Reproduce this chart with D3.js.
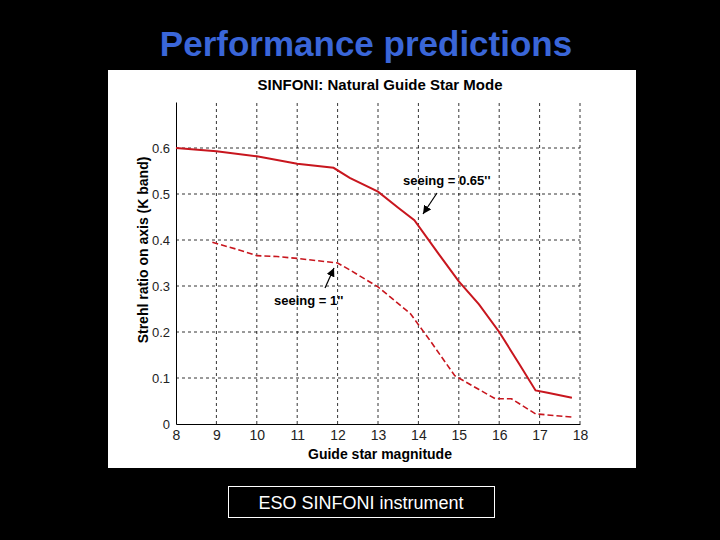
<!DOCTYPE html><html><head><script src="https://cdn.jsdelivr.net/npm/d3@7"></script>
<style>body{margin:0;background:#000}</style></head><body><svg id="c" width="720" height="540"></svg>
<script>
const xTicks=[8,9,10,11,12,13,14,15,16,17,18];
const yTicks=[0,0.1,0.2,0.3,0.4,0.5,0.6];
const goodMag=[8,9,10,11,11.9,12.3,13,13.5,13.9,14.5,15,15.5,16,16.5,16.9,17.2,17.8];
const goodStrehl=[0.60,0.593,0.582,0.566,0.557,0.535,0.505,0.47,0.443,0.37,0.31,0.26,0.2,0.13,0.073,0.068,0.057];
const badMag=[8.9,9.5,10,10.5,11,12,12.3,13,13.8,14.3,14.9,15.5,15.9,16.3,16.9,17.8];
const badStrehl=[0.395,0.38,0.366,0.364,0.36,0.35,0.335,0.298,0.24,0.18,0.105,0.075,0.055,0.055,0.022,0.015];
const svg=d3.select("#c");
svg.append("rect").attr("width",720).attr("height",540).attr("fill","#000");
svg.append("text").attr("x",366).attr("y",56).attr("text-anchor","middle").attr("font-family","Liberation Sans, Arial").attr("font-weight","bold").attr("font-size",35).attr("fill","#3a66d8").text("Performance predictions");
svg.append("rect").attr("x",108).attr("y",70).attr("width",528).attr("height",398).attr("fill","#fff");
svg.append("rect").attr("x",228.5).attr("y",486.5).attr("width",266).attr("height",31).attr("fill","none").attr("stroke","#fff");
svg.append("text").attr("x",361).attr("y",509).attr("text-anchor","middle").attr("font-family","Liberation Sans, Arial").attr("font-size",18).attr("fill","#fff").text("ESO SINFONI instrument");
const x=d3.scaleLinear().domain([8,18]).range([176,580]);
const y=d3.scaleLinear().domain([0,0.7]).range([424,102]);
const g=svg.append("g");
const F="Liberation Sans, Arial";
g.append("text").attr("x",380).attr("y",90).attr("text-anchor","middle").attr("font-family",F).attr("font-weight","bold").attr("font-size",15).text("SINFONI: Natural Guide Star Mode");
xTicks.slice(1).forEach(t=>g.append("line").attr("x1",x(t)).attr("x2",x(t)).attr("y1",y(0)).attr("y2",y(0.7)).attr("stroke","#000").attr("stroke-dasharray","3,3").attr("stroke-width",0.8));
yTicks.slice(1).forEach(t=>g.append("line").attr("x1",x(8)).attr("x2",x(18)).attr("y1",y(t)).attr("y2",y(t)).attr("stroke","#000").attr("stroke-dasharray","3,3").attr("stroke-width",0.8));
const xa=g.append("g").attr("transform",`translate(0,${y(0)})`).call(d3.axisBottom(x).tickValues(xTicks).tickSize(0).tickPadding(6).tickFormat(d3.format("d")));
xa.select(".domain").attr("stroke","#000");
xa.selectAll("text").attr("font-family",F).attr("font-size",14).attr("fill","#222");
const ya=g.append("g").attr("transform",`translate(${x(8)},0)`).call(d3.axisLeft(y).tickValues(yTicks).tickSize(0).tickPadding(6).tickFormat(d=>d===0?"0":d3.format(".1f")(d)));
ya.select(".domain").attr("stroke","#000");
ya.selectAll("text").attr("font-family",F).attr("font-size",13).attr("fill","#222");
g.append("text").attr("x",380).attr("y",459).attr("text-anchor","middle").attr("font-family",F).attr("font-weight","bold").attr("font-size",14).text("Guide star magnitude");
g.append("text").attr("transform","translate(148,250) rotate(-90)").attr("text-anchor","middle").attr("font-family",F).attr("font-weight","bold").attr("font-size",14).text("Strehl ratio on axis (K band)");
const line=d3.line().x(d=>x(d[0])).y(d=>y(d[1]));
g.append("path").attr("d",line(d3.zip(goodMag,goodStrehl))).attr("fill","none").attr("stroke","#c8161e").attr("stroke-width",2);
g.append("path").attr("d",line(d3.zip(badMag,badStrehl))).attr("fill","none").attr("stroke","#c8161e").attr("stroke-width",1.6).attr("stroke-dasharray","6,3");
svg.append("defs").append("marker").attr("id","ar").attr("viewBox","0 0 10 10").attr("refX",10).attr("refY",5).attr("markerWidth",7).attr("markerHeight",7).attr("orient","auto").append("path").attr("d","M0,0L10,5L0,10z");
g.append("text").attr("x",403).attr("y",185).attr("font-family",F).attr("font-weight","bold").attr("font-size",13).text("seeing = 0.65''");
g.append("line").attr("x1",437).attr("y1",193).attr("x2",423).attr("y2",214).attr("stroke","#000").attr("stroke-width",1.2).attr("marker-end","url(#ar)");
g.append("text").attr("x",274).attr("y",305).attr("font-family",F).attr("font-weight","bold").attr("font-size",13).text("seeing = 1''");
g.append("line").attr("x1",325).attr("y1",288).attr("x2",334).attr("y2",268).attr("stroke","#000").attr("stroke-width",1.2).attr("marker-end","url(#ar)");
</script></body></html>
